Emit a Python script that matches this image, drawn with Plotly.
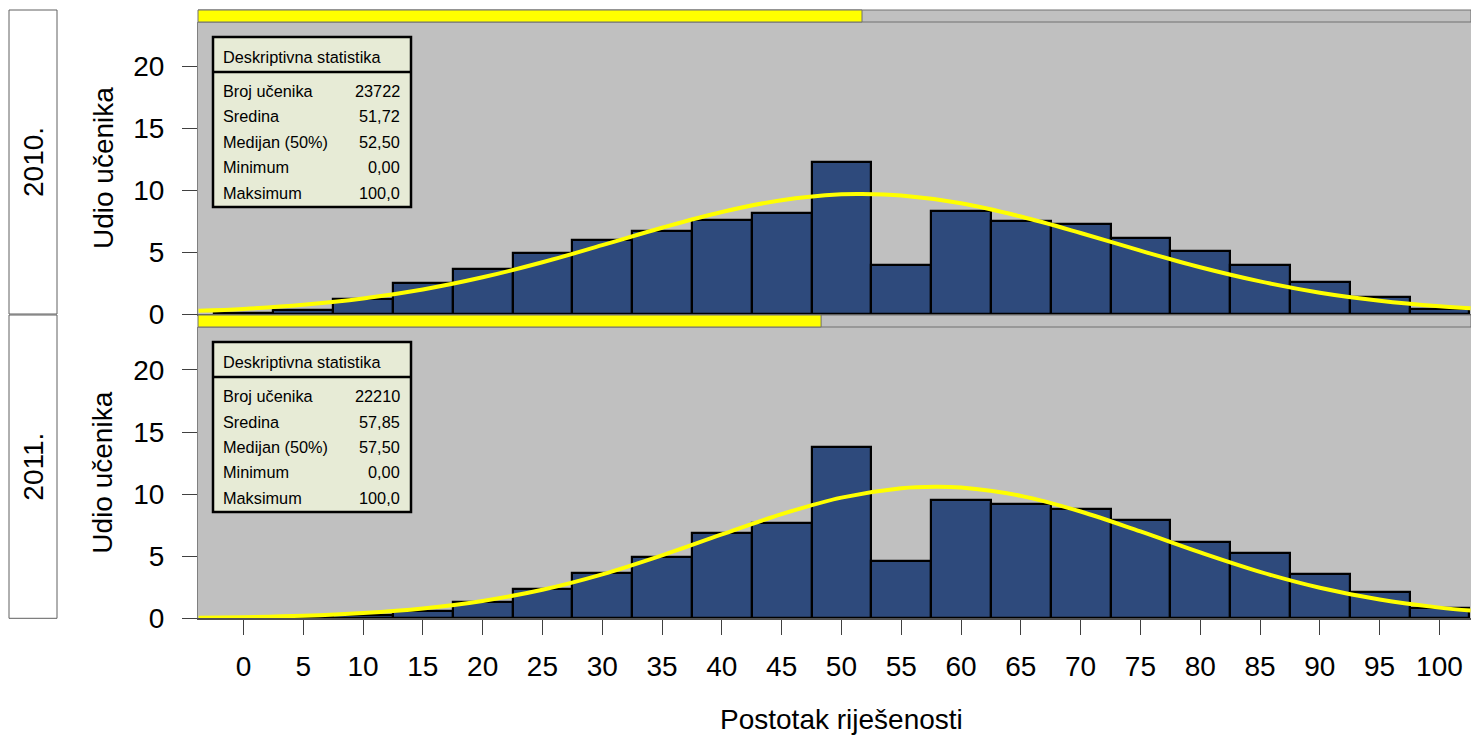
import plotly.graph_objects as go

W, H = 1471, 738          # target picture size
H_FIG = 754               # page is photographed ~754 tall and squeezed to 738

# ---------------- data ----------------
bin_centers = [0, 5, 10, 15, 20, 25, 30, 35, 40, 45, 50, 55, 60, 65, 70, 75, 80, 85, 90, 95, 100]
pct_2010 = [0.10, 0.32, 1.21, 2.48, 3.63, 4.92, 5.94, 6.69, 7.56, 8.15, 12.23, 3.95,
            8.31, 7.50, 7.26, 6.16, 5.06, 3.93, 2.61, 1.40, 0.40]
pct_2011 = [0.03, 0.08, 0.27, 0.55, 1.31, 2.36, 3.62, 4.94, 6.87, 7.65, 13.77, 4.61,
            9.50, 9.23, 8.80, 7.89, 6.17, 5.26, 3.57, 2.09, 0.80]

curve_x_2010 = [-3.75, 0, 5, 10, 15, 20, 25, 30, 35, 40, 45, 50, 51.72, 55, 60, 65, 70,
                75, 80, 85, 90, 95, 100, 102.6]
curve_2010 = [0.26, 0.41, 0.74, 1.25, 1.98, 2.96, 4.17, 5.55, 6.96, 8.23, 9.18, 9.65, 9.68,
              9.56, 8.93, 7.86, 6.53, 5.11, 3.77, 2.63, 1.72, 1.07, 0.62, 0.46]
curve_x_2011 = [-3.75, 0, 5, 10, 15, 20, 25, 30, 35, 40, 45, 50, 55, 57.85, 60, 65, 70,
                75, 80, 85, 90, 95, 100, 102.6]
curve_2011 = [0.05, 0.09, 0.20, 0.42, 0.79, 1.40, 2.30, 3.54, 5.07, 6.75, 8.39, 9.72, 10.48,
              10.60, 10.53, 9.86, 8.60, 6.99, 5.30, 3.74, 2.46, 1.51, 0.86, 0.62]

years = ["2010.", "2011."]
strip_fill = [51.72, 48.3]

stat_header = "Deskriptivna statistika"
stat_labels = ["Broj učenika", "Sredina", "Medijan (50%)", "Minimum", "Maksimum"]
stats_2010 = ["23722", "51,72", "52,50", "0,00", "100,0"]
stats_2011 = ["22210", "57,85", "57,50", "0,00", "100,0"]

x_ticks = [0, 5, 10, 15, 20, 25, 30, 35, 40, 45, 50, 55, 60, 65, 70, 75, 80, 85, 90, 95, 100]
y_ticks = [0, 5, 10, 15, 20]

x_title = "Postotak riješenosti"
y_title = "Udio učenika"

# ---------------- styling ----------------
FONT = "Liberation Sans, Arial, sans-serif"
BAR_COLOR = "#2E4A7C"
BG = "#C0C0C0"
BOX_BG = "#E7EBD6"
X_RANGE = [-3.8, 102.64]
BOX_FONT = 16.3
BIG_FONT = 28


def px(x):
    return x / W


def py(y):
    return 1 - y / H


# panel geometry in target pixels: (strip top, plot top, plot bottom)
panels = [(10, 22, 314), (315, 327, 618.3)]

fig = go.Figure()
bars_all = [pct_2010, pct_2011]
curves_all = [(curve_x_2010, curve_2010), (curve_x_2011, curve_2011)]
stats_all = [stats_2010, stats_2011]

shapes = []
annotations = []

for i, (s_top, p_top, p_bot) in enumerate(panels):
    xa = "x" if i == 0 else "x2"
    ya = "y" if i == 0 else "y2"
    fig.add_trace(go.Bar(
        x=bin_centers, y=bars_all[i], width=5, xaxis=xa, yaxis=ya,
        marker=dict(color=BAR_COLOR, line=dict(color="black", width=2.2)),
        showlegend=False, hoverinfo="x+y"))
    cx, cy = curves_all[i]
    fig.add_trace(go.Scatter(
        x=cx, y=cy, mode="lines", xaxis=xa, yaxis=ya,
        line=dict(color="#FFFF00", width=4, shape="spline", smoothing=1.0),
        showlegend=False, hoverinfo="skip"))

    # top strip
    shapes.append(dict(type="rect", xref="paper", yref="paper",
                       x0=px(198), x1=1.0, y0=py(p_top), y1=py(s_top),
                       fillcolor=BG, line=dict(color="#707070", width=1), layer="above"))
    shapes.append(dict(type="rect", xref=xa, yref="paper",
                       x0=X_RANGE[0], x1=strip_fill[i], y0=py(p_top), y1=py(s_top),
                       fillcolor="#FFFF00", line=dict(color="#707070", width=1), layer="above"))
    # left year box
    shapes.append(dict(type="rect", xref="paper", yref="paper",
                       x0=px(9), x1=px(57), y0=py(p_bot), y1=py(s_top),
                       fillcolor="white", line=dict(color="#606060", width=1)))
    annotations.append(dict(text=years[i], xref="paper", yref="paper",
                            x=px(34), y=py((s_top + p_bot) / 2), showarrow=False,
                            textangle=-90, xanchor="center", yanchor="middle",
                            font=dict(family=FONT, size=BIG_FONT, color="black")))
    # y title
    annotations.append(dict(text=y_title, xref="paper", yref="paper",
                            x=px(103), y=py((p_top + p_bot) / 2), showarrow=False,
                            textangle=-90, xanchor="center", yanchor="middle",
                            font=dict(family=FONT, size=BIG_FONT, color="black")))
    # stats box
    off = p_top - 22
    shapes.append(dict(type="rect", xref="paper", yref="paper",
                       x0=px(213), x1=px(411), y0=py(207 + off), y1=py(37 + off),
                       fillcolor=BOX_BG, line=dict(color="black", width=2.5), layer="above"))
    shapes.append(dict(type="line", xref="paper", yref="paper",
                       x0=px(213), x1=px(411), y0=py(72 + off), y1=py(72 + off),
                       line=dict(color="black", width=2.5), layer="above"))
    annotations.append(dict(text=stat_header, xref="paper", yref="paper",
                            x=px(221), y=py(57 + off), showarrow=False,
                            xanchor="left", yanchor="middle",
                            font=dict(family=FONT, size=BOX_FONT, color="black")))
    row_y = [91, 116.5, 142, 167, 192.5]
    for lab, val, ry in zip(stat_labels, stats_all[i], row_y):
        annotations.append(dict(text=lab, xref="paper", yref="paper",
                                x=px(221), y=py(ry + off), showarrow=False,
                                xanchor="left", yanchor="middle",
                                font=dict(family=FONT, size=BOX_FONT, color="black")))
        annotations.append(dict(text=val, xref="paper", yref="paper",
                                x=px(402), y=py(ry + off), showarrow=False,
                                xanchor="right", yanchor="middle",
                                font=dict(family=FONT, size=BOX_FONT, color="black")))

annotations.append(dict(text=x_title, xref="paper", yref="paper",
                        x=px(841), y=py(719), showarrow=False,
                        xanchor="center", yanchor="middle",
                        font=dict(family=FONT, size=BIG_FONT, color="black")))

common_x = dict(range=X_RANGE, domain=[px(198), 1.0], showgrid=False, zeroline=False,
                showline=True, linecolor="#505050", linewidth=1.5)
common_y = dict(showgrid=False, zeroline=False, tickvals=y_ticks, ticks="outside",
                ticklen=15, tickcolor="#404040", tickwidth=1.2, showline=True,
                linecolor="#808080", linewidth=1,
                tickfont=dict(family=FONT, size=BIG_FONT, color="black"), ticklabelstandoff=12)

fig.update_layout(
    width=W, height=H_FIG, autosize=False,
    margin=dict(l=0, r=0, t=0, b=0),
    paper_bgcolor="white", plot_bgcolor=BG,
    bargap=0, barmode="overlay",
    xaxis=dict(**common_x, anchor="y", showticklabels=False, ticks=""),
    xaxis2=dict(**common_x, anchor="y2", tickvals=x_ticks, ticks="outside", ticklen=15,
                tickcolor="#404040", tickwidth=1.2, ticklabelstandoff=7,
                tickfont=dict(family=FONT, size=BIG_FONT, color="black")),
    yaxis=dict(**common_y, anchor="x", domain=[py(panels[0][2]), py(panels[0][1])],
               range=[0, (panels[0][2] - panels[0][1]) / 12.4]),
    yaxis2=dict(**common_y, anchor="x2", domain=[py(panels[1][2]), py(panels[1][1])],
                range=[0, (panels[1][2] - panels[1][1]) / 12.42]),
    shapes=shapes,
    annotations=annotations,
)

fig.write_html(
    "out.html",
    config={"displayModeBar": False},
    post_script=("document.body.style.margin='0';"
                 "document.body.style.overflow='hidden';"
                 "document.documentElement.style.overflow='hidden';"),
)
